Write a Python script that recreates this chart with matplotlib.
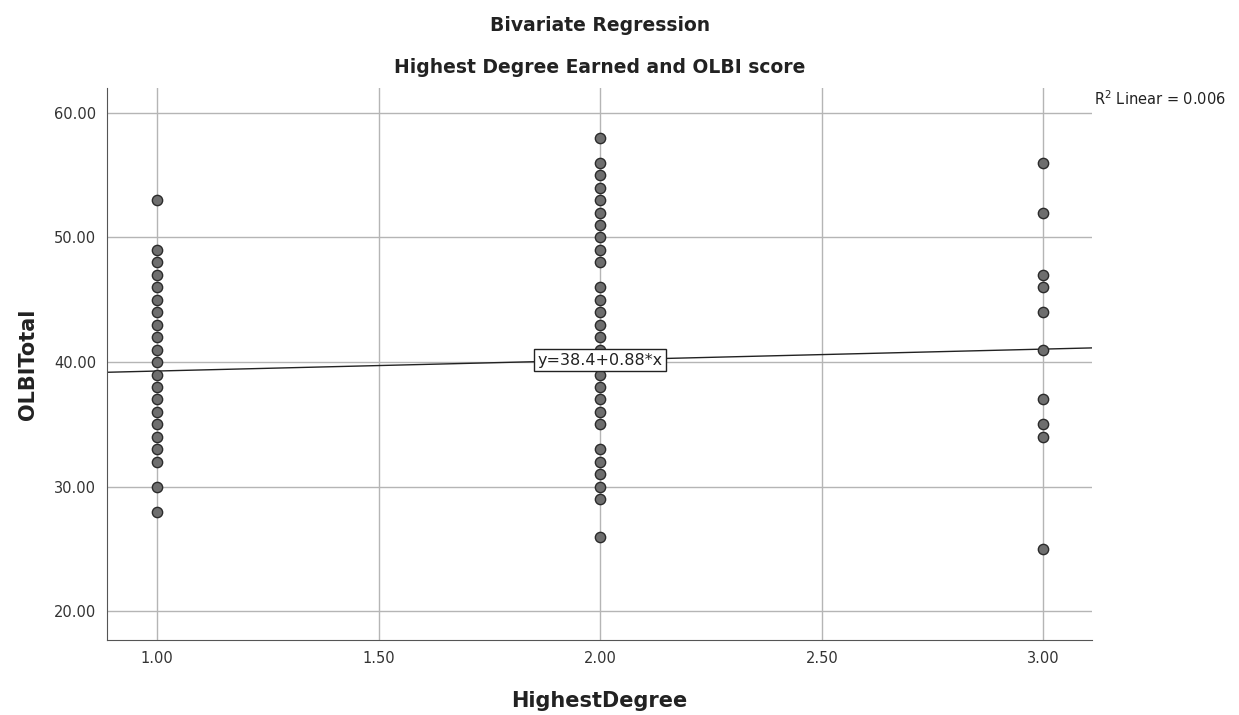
import numpy as np
import matplotlib
matplotlib.use("Agg")
import matplotlib.pyplot as plt

# OLBI total scores grouped by highest degree earned
degree_levels = [1.0, 2.0, 3.0]
olbi_deg1 = [53, 49, 48, 47, 46, 45, 44, 43, 42, 41, 40, 39, 38, 37, 36, 35, 34, 33, 32, 30, 28]
olbi_deg2 = [58, 56, 55, 54, 53, 52, 51, 50, 49, 48, 46, 45, 44, 43, 42, 41, 40, 39, 38, 37,
             36, 35, 33, 32, 31, 30, 29, 26]
olbi_deg3 = [56, 52, 47, 46, 44, 41, 37, 35, 34, 25]

# fitted line from the regression output
intercept = 38.4
slope = 0.88
r2 = 0.006

x_ticks = [1.0, 1.5, 2.0, 2.5, 3.0]
y_ticks = [20, 30, 40, 50, 60]

fig = plt.figure(figsize=(12.39, 7.15), dpi=100)
ax = fig.add_axes([0.0864, 0.105, 0.7950, 0.772])

groups = [olbi_deg1, olbi_deg2, olbi_deg3]
for lvl, vals in zip(degree_levels, groups):
    ax.scatter([lvl] * len(vals), vals, s=55, c="#6e6e6e", edgecolors="#2b2b2b",
               linewidths=1.0, zorder=3)

xlim = (0.887, 3.11)
xs = np.array(xlim)
ax.plot(xs, intercept + slope * xs, color="#222222", lw=1.0, zorder=2)
ax.text(2.0, intercept + slope * 2.0, "y=%.1f+%.2f*x" % (intercept, slope),
        ha="center", va="center", fontsize=11.5, color="#222222", zorder=4,
        bbox=dict(boxstyle="square,pad=0.2", fc="white", ec="#222222", lw=1.0))

ax.set_xlim(*xlim)
ax.set_ylim(17.7, 62.0)
ax.set_xticks(x_ticks)
ax.set_yticks(y_ticks)
ax.set_xticklabels(["%.2f" % v for v in x_ticks])
ax.set_yticklabels(["%.2f" % v for v in y_ticks])
ax.tick_params(labelsize=10.5, colors="#333333", length=0, pad=8)
ax.grid(True, color="#b5b5b5", lw=1.0, zorder=0)
ax.set_axisbelow(True)
for side in ["top", "right"]:
    ax.spines[side].set_visible(False)
for side in ["left", "bottom"]:
    ax.spines[side].set_color("#555555")

ax.set_xlabel("HighestDegree", fontsize=15, fontweight="bold", color="#222222", labelpad=18)
ax.set_ylabel("OLBITotal", fontsize=15, fontweight="bold", color="#222222", labelpad=11)

fig.text(0.484, 0.965, "Bivariate Regression", ha="center", va="center",
         fontsize=13.5, fontweight="bold", color="#222222")
fig.text(0.484, 0.905, "Highest Degree Earned and OLBI score", ha="center", va="center",
         fontsize=13.5, fontweight="bold", color="#222222")
fig.text(0.883, 0.862, "R$^2$ Linear = %.3f" % r2, ha="left", va="center",
         fontsize=10.5, color="#222222")

fig.savefig("out.png", dpi=100)
